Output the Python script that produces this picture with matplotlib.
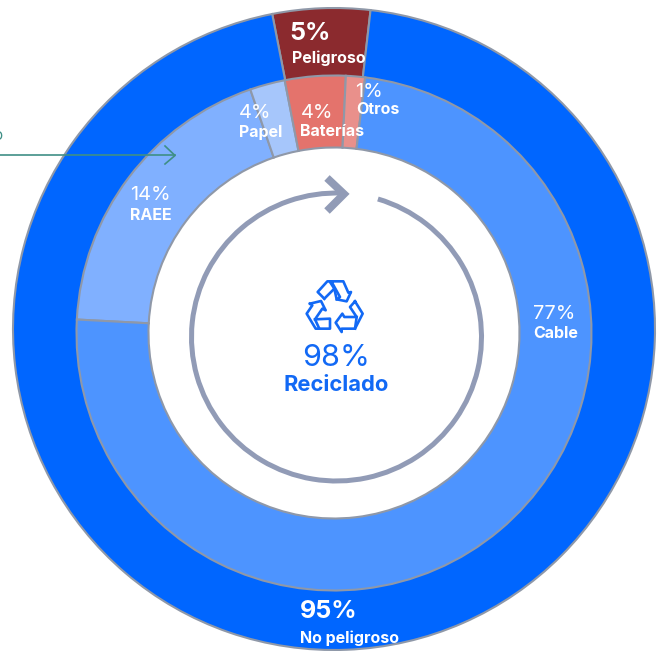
import matplotlib
matplotlib.use('Agg')
import matplotlib.pyplot as plt
from matplotlib.patches import Arc

W, H = 658, 651

# outer ring
outer_sizes = [4.9, 95.1]
outer_colors = ['#8b2a2e', '#0066ff']

# inner ring, sizes as drawn (they differ a bit from the printed labels)
inner_names = ['RAEE', 'Papel', 'Baterías', 'Otros', 'Cable']
inner_sizes = [18.9, 2.2, 3.8, 1.2, 73.9]
inner_colors = ['#80b0ff', '#a6c6fb', '#e4736c', '#e9908b', '#4d94ff']
inner_labels = ['14%', '4%', '4%', '1%', '77%']

BLUE = '#1269f5'
EDGE = '#8f98a8'
ARROW = '#919bb6'
TEAL = '#3f8f86'
FONT = 'Inter'


def py(y):
    # picture y (from the top) to axes y
    return H - y


def label(x, y, s, px, weight='normal', color='white'):
    ax.text(x, py(y), s, fontsize=px * 0.72, fontweight=weight, color=color,
            family=FONT, ha='left', va='center', clip_on=True)


fig = plt.figure(figsize=(W / 100, H / 100), dpi=100)
ax = fig.add_axes([0, 0, 1, 1])

ax.pie(outer_sizes, colors=outer_colors, center=(334, py(329)), radius=321,
       startangle=101.1, counterclock=False, frame=True,
       wedgeprops={'width': 70, 'edgecolor': EDGE, 'linewidth': 1.5})
ax.pie(inner_sizes, colors=inner_colors, center=(334, py(333)), radius=257.5,
       startangle=177, counterclock=False, frame=True,
       wedgeprops={'width': 72, 'edgecolor': EDGE, 'linewidth': 1.5})

ax.set_xlim(0, W)
ax.set_ylim(0, H)
ax.set_aspect('equal')
ax.axis('off')

# circular arrow in the middle
ax.add_patch(Arc((336.5, py(337)), 290, 288, theta1=87.6, theta2=73.3,
                 color=ARROW, lw=3.6))
ax.plot([327, 344, 327], [py(178), py(194), py(211)], color=ARROW, lw=5.6,
        solid_joinstyle='miter', solid_capstyle='butt')

# arrow coming from the left
ax.plot([0, 175], [py(155), py(155)], color=TEAL, lw=1.2)
ax.plot([165, 175, 165], [py(146), py(155.5), py(164)], color=TEAL, lw=1.2)
ax.text(-7, py(136), 'o', fontsize=11, color=TEAL, family=FONT, ha='left',
        va='center', clip_on=True)

# recycling icon
icon_paths = [
    [(88, 80), (68, 60), (97, 28), (145, 28), (160, 62), (168, 60), (155, 88),
     (125, 82), (135, 75), (110, 30)],
    [(118, 50), (88, 80)],
    [(105, 30), (118, 50), (125, 82)],
    [(45, 95), (78, 87), (92, 115), (82, 110), (60, 142), (72, 168)],
    [(60, 142), (105, 140), (105, 170), (62, 170), (35, 125), (52, 100), (45, 95)],
    [(180, 88), (203, 125), (180, 170), (140, 170), (140, 180), (122, 152),
     (142, 125), (148, 135), (185, 135), (165, 105), (180, 88)],
    [(185, 135), (180, 170)],
]
for path in icon_paths:
    ax.plot([295 + p[0] / 3 for p in path], [py(272 + p[1] / 3) for p in path],
            color=BLUE, lw=1.9, solid_joinstyle='round')

# centre text
ax.text(336, py(358), '98%', fontsize=22, color=BLUE, family=FONT, ha='center',
        va='center', fontweight='normal')
ax.text(336, py(385), 'Reciclado', fontsize=15.8, color=BLUE, family=FONT,
        ha='center', va='center', fontweight='bold')

# ring labels
label(289, 33, '5%', 25, 'bold')
label(292, 58, 'Peligroso', 16, 'bold')
label(239, 113, inner_labels[1], 20)
label(239, 132, inner_names[1], 16, 'bold')
label(301, 113, inner_labels[2], 20)
label(300, 131, inner_names[2], 16, 'bold')
label(355, 92, inner_labels[3], 20)
label(356, 109, inner_names[3], 16, 'bold')
label(130, 195, inner_labels[0], 20)
label(130, 216, inner_names[0], 16, 'bold')
label(533, 314, inner_labels[4], 20)
label(533, 334, inner_names[4], 16, 'bold')
label(300, 612, '95%', 25, 'bold')
label(300, 638, 'No peligroso', 16, 'bold')

fig.savefig('out.png', dpi=100)
